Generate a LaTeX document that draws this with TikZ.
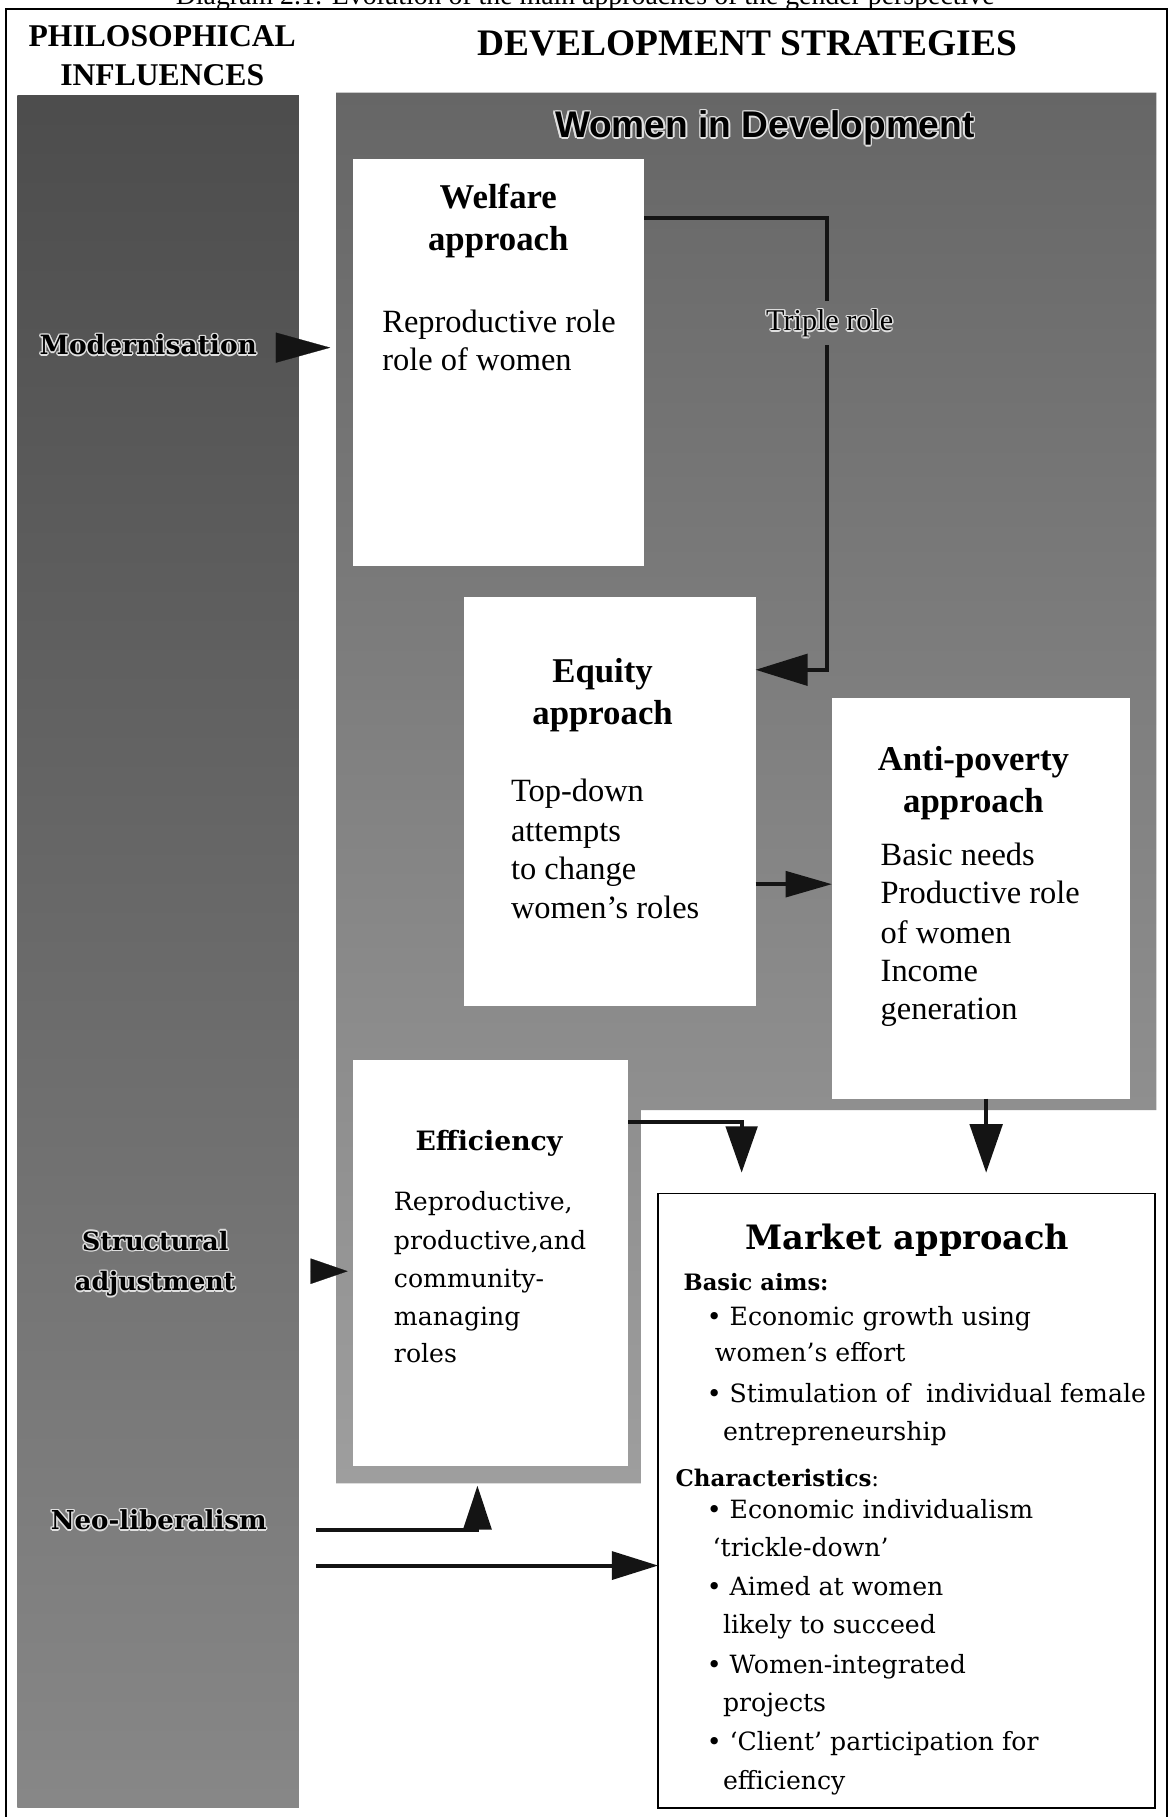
\documentclass[tikz,border=0pt]{standalone}
\usepackage{fontspec}
\setmainfont{Liberation Serif}
\newfontfamily\csfont{DejaVu Serif}
\newfontfamily\arfont{Liberation Sans}
\usetikzlibrary{arrows.meta}

\definecolor{haloc}{gray}{0.88}
\newcommand\fsz[1]{\fontsize{#1}{#1}\selectfont}
% light glow around a line of text on the grey ground
\newcommand\haloat[2]{\rlap{\kern#1\raise#2\hbox{\color{haloc}\copy0}}}
\newcommand\halo[1]{\begingroup\setbox0=\hbox{#1}%
  \haloat{1.3pt}{0pt}\haloat{-1.3pt}{0pt}\haloat{0pt}{1.3pt}\haloat{0pt}{-1.3pt}%
  \haloat{0.9pt}{0.9pt}\haloat{-0.9pt}{0.9pt}\haloat{0.9pt}{-0.9pt}\haloat{-0.9pt}{-0.9pt}%
  \box0\endgroup}

\begin{document}
\begin{tikzpicture}[x=1pt,y=-1pt,
  lbl/.style={inner sep=0pt, outer sep=0pt},
  card/.style={fill=white, draw=none, inner sep=0pt, outer sep=0pt, anchor=north west},
  wire/.style={line width=3.5pt, draw=black!92},
  tip/.style 2 args={wire, -{Triangle[length=#1pt,width=#2pt]}},
  head/.style={font=\bfseries\fsz{30}},
  body/.style={lbl, anchor=base west, font=\fsz{28}},
  mk/.style={lbl, anchor=base west, font=\csfont\fsz{21.7}},
  infl/.style={lbl, anchor=base, font=\csfont\bfseries\fsz{22.5}},
]
\useasboundingbox (0,0) rectangle (1011,1568);
\clip (0,0) rectangle (1011,1568);
\fill[white] (0,0) rectangle (1011,1568);

% caption line, cut off at the top edge of the page
\node[lbl, anchor=base] (caption) at (505,4)
  {\fsz{24}Diagram 2.1: Evolution of the main approaches of the gender perspective};

% outer frame
\draw[line width=1.6pt] (5,1620) -- (5,8) -- (1007,8) -- (1007,1620);

% column of philosophical influences
\shade[top color=black!70, bottom color=black!47] (15,82) rectangle (258,1560);

% Women in Development band
\shade[top color=black!60, bottom color=black!38]
  (290,80) -- (998,80) -- (998,958) -- (553,958) -- (553,1280) -- (290,1280) -- cycle;

% headings
\node[lbl, anchor=base] (phil1) at (140,40) {\fsz{27.3}\bfseries PHILOSOPHICAL};
\node[lbl, anchor=base] (phil2) at (140,74) {\fsz{27.3}\bfseries INFLUENCES};
\node[lbl, anchor=base] (devstr) at (645,48) {\fsz{32.3}\bfseries DEVELOPMENT STRATEGIES};
\node[lbl, anchor=base] (wid) at (660,119) {\arfont\bfseries\fsz{32}\halo{Women in Development}};

% influences
\node[infl, font=\csfont\bfseries\fsz{22.9}] (modern) at (128,306) {\halo{Modernisation}};
\node[infl, font=\csfont\bfseries\fsz{21.8}] (struct1) at (134,1079) {\halo{Structural}};
\node[infl, font=\csfont\bfseries\fsz{21.8}] (struct2) at (134,1114) {\halo{adjustment}};
\node[infl] (neolib) at (137,1320) {\halo{Neo-liberalism}};

% approach cards
\node[card, minimum width=251pt, minimum height=351pt] (welfare) at (305,137) {};
\node[card, minimum width=252pt, minimum height=353pt] (equity) at (400,515) {};
\node[card, minimum width=257pt, minimum height=346pt] (anti) at (718,602) {};
\node[card, minimum width=237pt, minimum height=350pt] (effic) at (305,915) {};
\node[card, draw=black, line width=1.5pt, minimum width=429pt, minimum height=530pt] (market) at (568,1030) {};

% Welfare
\node[lbl, anchor=base, head] (welh1) at (430,180) {Welfare};
\node[lbl, anchor=base, head] (welh2) at (430,216) {approach};
\node[body] (welt1) at (330,287) {Reproductive role};
\node[body] (welt2) at (330,320) {role of women};

% Equity
\node[lbl, anchor=base, head] (equh1) at (520,589) {Equity};
\node[lbl, anchor=base, head] (equh2) at (520,625) {approach};
\node[body] (equt1) at (441,692) {Top-down};
\node[body] (equt2) at (441,726) {attempts};
\node[body] (equt3) at (441,759) {to change};
\node[body] (equt4) at (441,793) {women’s roles};

% Anti-poverty
\node[lbl, anchor=base, head] (anth1) at (840,665) {Anti-poverty};
\node[lbl, anchor=base, head] (anth2) at (840,701) {approach};
\node[body] (antt1) at (760,747) {Basic needs};
\node[body] (antt2) at (760,780) {Productive role};
\node[body] (antt3) at (760,814) {of women};
\node[body] (antt4) at (760,847) {Income};
\node[body] (antt5) at (760,880) {generation};

% Efficiency
\node[lbl, anchor=base] (effh) at (422,993) {\csfont\bfseries\fsz{23}Efficiency};
\node[mk] (efft1) at (340,1045) {Reproductive,};
\node[mk] (efft2) at (340,1078) {productive,and};
\node[mk] (efft3) at (340,1111) {community-};
\node[mk] (efft4) at (340,1144) {managing};
\node[mk] (efft5) at (340,1176) {roles};

% Market approach
\node[lbl, anchor=base] (mkh) at (783,1078) {\csfont\bfseries\fsz{29}Market approach};
\node[mk, font=\csfont\bfseries\fsz{19.5}] (mk1) at (590,1114) {Basic aims:};
\node[mk] (mk2) at (610,1144) {• Economic growth using};
\node[mk] (mk3) at (617,1175) {women’s effort};
\node[mk] (mk4) at (610,1210) {• Stimulation of~ individual female};
\node[mk] (mk5) at (624,1243) {entrepreneurship};
\node[mk, font=\csfont\fsz{19.8}] (mk6) at (583,1283) {{\bfseries Characteristics}:};
\node[mk] (mk7) at (610,1310) {• Economic individualism};
\node[mk] (mk8) at (615,1343) {‘trickle-down’};
\node[mk] (mk9) at (610,1377) {• Aimed at women};
\node[mk] (mk10) at (624,1410) {likely to succeed};
\node[mk] (mk11) at (610,1444) {• Women-integrated};
\node[mk] (mk12) at (624,1477) {projects};
\node[mk] (mk13) at (610,1511) {• ‘Client’ participation for};
\node[mk] (mk14) at (624,1544) {efficiency};

% Triple role link
\node[lbl, inner sep=6pt] (trl) at (716,279) {\fsz{26}\halo{Triple role}};
\coordinate (tr1) at (714,188);
\coordinate (tr2) at (714,578);
\draw[wire] (welfare.east |- tr1) -- (tr1) -- (tr1 |- trl.north);
\draw[tip={45}{27}] (tr1 |- trl.south) -- (tr2) -- (equity.east |- tr2);

% Equity to Anti-poverty
\coordinate (ea) at (0,763);
\draw[tip={40}{22}] (equity.east |- ea) -- (anti.west |- ea);

% into Market approach
\coordinate (emrow) at (0,968);
\coordinate (emtip) at (640,1012);
\draw[tip={40}{27}] (effic.east |- emrow) -| (emtip);
\coordinate (amtip) at (851,1012);
\draw[tip={42}{28}] (anti.south -| amtip) -- (amtip);

% influence arrows
\coordinate (modbase) at (238,300);
\coordinate (modtip) at (285,300);
\draw[tip={47}{26}, line width=0.2pt] (modbase) -- (modtip);
\coordinate (sabase) at (268,1097);
\coordinate (satip) at (300,1097);
\draw[tip={32}{22}, line width=0.2pt] (sabase) -- (satip);
\coordinate (n1) at (273,1320);
\coordinate (n1t) at (412,1282);
\draw[tip={38}{24}] (n1) -| (n1t);
\coordinate (n2) at (273,1351);
\draw[tip={40}{24}] (n2) -- (market.west |- n2);
\end{tikzpicture}
\end{document}
